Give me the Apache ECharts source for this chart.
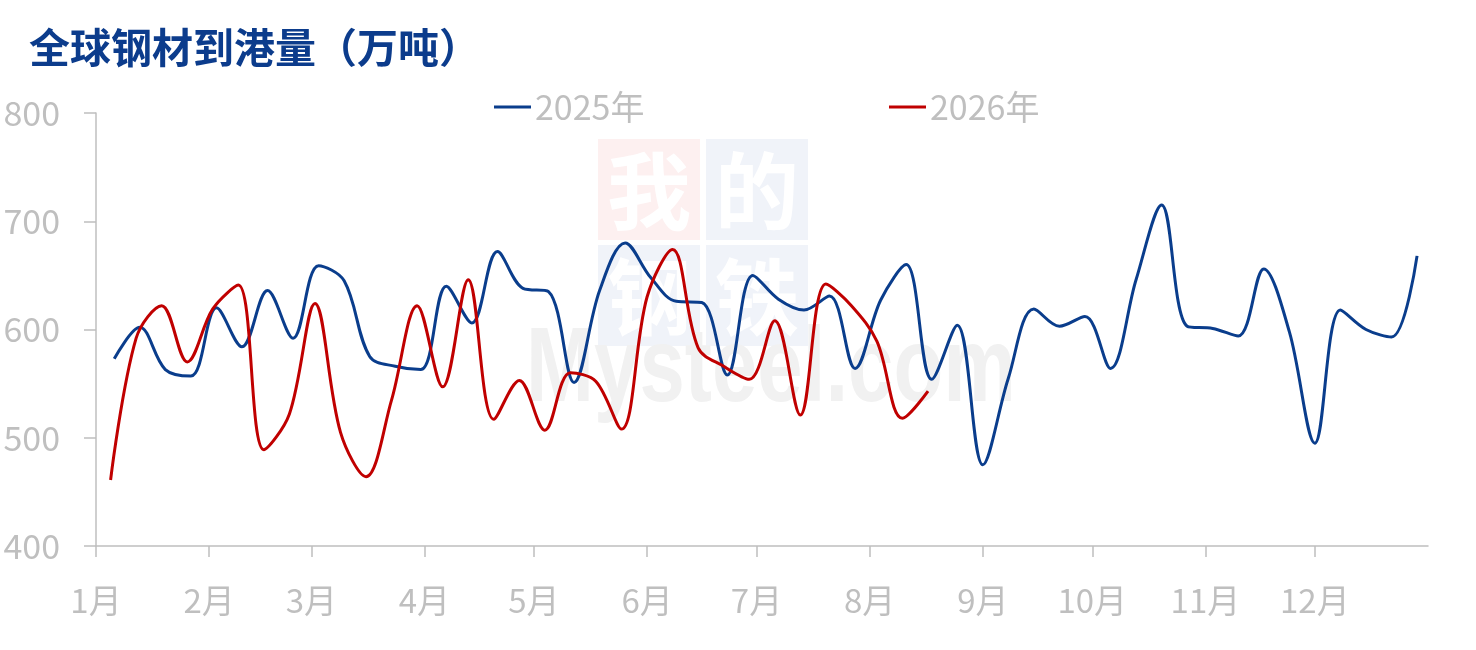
<!DOCTYPE html>
<html>
<head>
<meta charset="utf-8">
<title>全球钢材到港量</title>
<script src="https://cdn.jsdelivr.net/npm/echarts@6/dist/echarts.min.js"></script>
<style>
  html, body { margin: 0; padding: 0; background: #ffffff; }
  #chart { width: 1476px; height: 650px; }
</style>
</head>
<body>
<div id="chart"></div>
<script>
// weekly arrivals, both years laid on one Jan–Dec axis (MM-DD)
const dates2025 = [
  '01-06', '01-13', '01-20', '01-27', '02-03', '02-10', '02-17', '02-24',
  '03-03', '03-10', '03-17', '03-24', '03-31', '04-07', '04-14', '04-21',
  '04-28', '05-05', '05-12', '05-19', '05-26', '06-02', '06-09', '06-16',
  '06-23', '06-30', '07-07', '07-14', '07-21', '07-28', '08-04', '08-11',
  '08-18', '08-25', '09-01', '09-08', '09-15', '09-22', '09-29', '10-06',
  '10-13', '10-20', '10-27', '11-03', '11-10', '11-17', '11-24', '12-01',
  '12-08', '12-15', '12-22', '12-29'
];
const values2025 = [
  573, 602, 563, 557, 620, 584, 636, 592, 659, 645, 575, 566, 563, 640,
  606, 672, 638, 635, 551, 636, 680, 648, 626, 625, 558, 650, 628, 618,
  631, 564, 627, 660, 554, 604, 475, 555, 619, 603, 612, 564, 646, 715,
  603, 601, 594, 656, 598, 495, 618, 600, 593, 668
];

const dates2026 = [
  '01-05', '01-12', '01-19', '01-26', '02-02', '02-09', '02-16', '02-23',
  '03-02', '03-09', '03-16', '03-23', '03-30', '04-06', '04-13', '04-20',
  '04-27', '05-04', '05-11', '05-18', '05-25', '06-01', '06-08', '06-15',
  '06-22', '06-29', '07-06', '07-13', '07-20', '07-27', '08-03', '08-10',
  '08-17'
];
const values2026 = [
  461, 592, 622, 570, 619, 641, 489, 522, 624, 505, 464, 535, 622, 547,
  646, 517, 553, 507, 560, 552, 508, 630, 674, 583, 566, 554, 608, 521,
  642, 622, 589, 518, 543
];

const seriesNames = ['2025年', '2026年'];
const yTicks = { min: 400, max: 800, step: 100 };

const BLUE = '#0a3d8c';
const RED = '#c00000';
const GREY = '#bfbfbf';
const FONT = '"Noto Sans CJK SC", "Noto Sans", sans-serif';
const DAY = 24 * 3600 * 1000;

// every series goes on the same (2025) calendar so the weeks line up
function toPairs(dates, values) {
  return dates.map((d, i) => ['2025-' + d, values[i]]);
}

// ── watermark (我的钢铁 Mysteel.com) ─────────────────────────────
function watermark() {
  const cells = [
    { ch: '我', x: 598, y: 139, bg: '#fdf0f0' },
    { ch: '的', x: 706, y: 139, bg: '#f0f3f9' },
    { ch: '钢', x: 598, y: 245, bg: '#f0f3f9' },
    { ch: '铁', x: 706, y: 245, bg: '#f0f3f9' }
  ];
  const out = [];
  cells.forEach(c => {
    out.push({
      type: 'rect', z: 0, silent: true,
      shape: { x: c.x, y: c.y, width: 102, height: 101 },
      style: { fill: c.bg }
    });
    out.push({
      type: 'text', z: 0, silent: true,
      x: c.x + 51, y: c.y + 52,
      style: {
        text: c.ch, fill: '#ffffff', align: 'center', verticalAlign: 'middle',
        font: 'bold 84px "Noto Sans CJK SC", sans-serif'
      }
    });
  });
  out.push({
    type: 'text', z: 0, silent: true,
    x: 526, y: 372, scaleX: 0.77,
    style: {
      text: 'Mysteel.com', fill: '#f1f1f1', align: 'left', verticalAlign: 'middle',
      font: 'bold 106px "Liberation Sans", Arial, sans-serif'
    }
  });
  return out;
}

function legendAt(left, name) {
  return {
    data: [name],
    left, top: 90,
    padding: 0,
    icon: 'rect',
    itemWidth: 37,
    itemHeight: 3,
    itemGap: 0,
    textStyle: { color: GREY, fontSize: 34, fontFamily: FONT, padding: [0, 0, 0, -1] },
    selectedMode: false
  };
}

const chart = echarts.init(document.getElementById('chart'), null, { renderer: 'canvas' });

chart.setOption({
  backgroundColor: '#ffffff',
  animation: false,
  textStyle: { fontFamily: FONT },
  title: {
    text: '全球钢材到港量（万吨）',
    left: 24, top: 22,
    textStyle: { color: '#0c3c8c', fontSize: 41, fontWeight: 'bold', fontFamily: FONT }
  },
  legend: [legendAt(494, seriesNames[0]), legendAt(889, seriesNames[1])],
  graphic: watermark(),
  grid: { left: 96, right: 48, top: 113, bottom: 104, containLabel: false },
  xAxis: {
    type: 'time',
    min: '2025-01-01',
    max: '2026-01-01',
    minInterval: 28 * DAY,
    maxInterval: 31 * DAY,
    axisLine: { show: true, lineStyle: { color: GREY, width: 1.5 } },
    axisTick: { show: true, length: 11, lineStyle: { color: GREY, width: 1.5 } },
    splitLine: { show: false },
    axisLabel: {
      color: GREY, fontSize: 33, fontFamily: FONT, margin: 38,
      showMaxLabel: false,
      formatter: v => (new Date(v).getMonth() + 1) + '月'
    }
  },
  yAxis: {
    type: 'value',
    min: yTicks.min,
    max: yTicks.max,
    interval: yTicks.step,
    axisLine: { show: true, lineStyle: { color: GREY, width: 1.5 } },
    axisTick: { show: true, length: 12, lineStyle: { color: GREY, width: 1.5 } },
    splitLine: { show: false },
    axisLabel: { color: GREY, fontSize: 34, fontFamily: FONT, margin: 36 }
  },
  series: [
    {
      name: seriesNames[0],
      type: 'line',
      data: toPairs(dates2025, values2025),
      smooth: 0.35,
      showSymbol: false,
      z: 3,
      itemStyle: { color: BLUE },
      lineStyle: { color: BLUE, width: 3 }
    },
    {
      name: seriesNames[1],
      type: 'line',
      data: toPairs(dates2026, values2026),
      smooth: 0.35,
      showSymbol: false,
      z: 4,
      itemStyle: { color: RED },
      lineStyle: { color: RED, width: 3 }
    }
  ]
});

window.addEventListener('resize', () => chart.resize());
</script>
</body>
</html>
